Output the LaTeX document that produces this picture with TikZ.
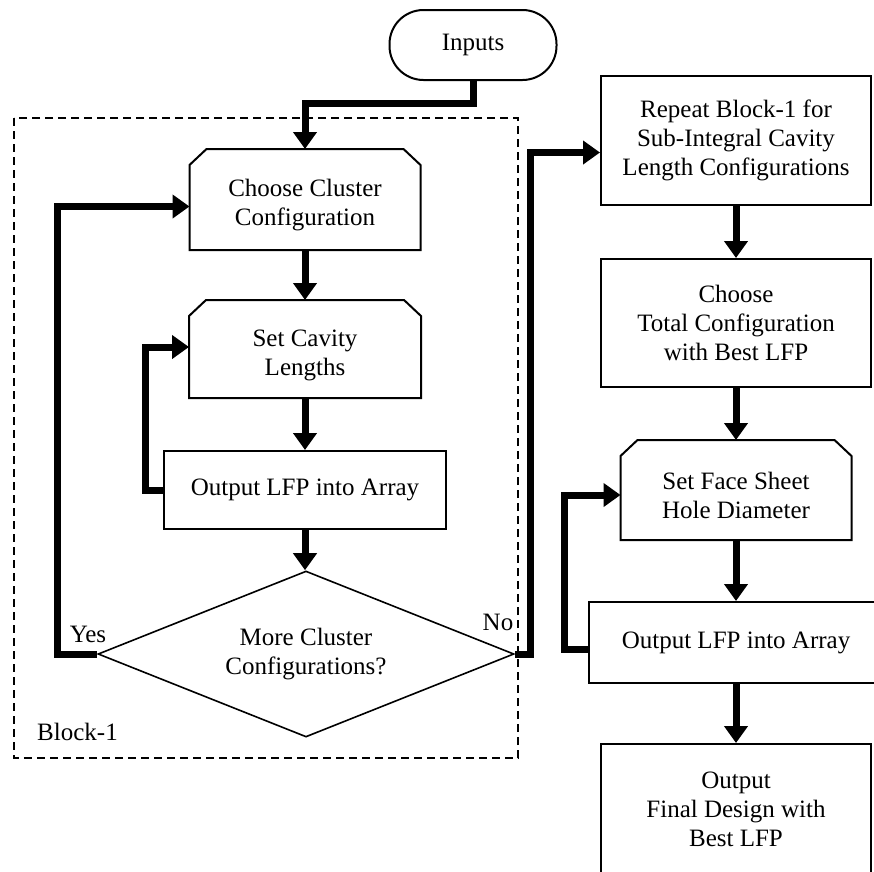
\documentclass[tikz,border=0pt]{standalone}
\usepackage{fontspec}
\setmainfont{Liberation Serif}
\usetikzlibrary{arrows.meta,shapes.geometric}
\begin{document}
\begin{tikzpicture}[x=1pt,y=-1pt,
  every node/.style={font=\fontsize{25}{29}\selectfont, align=center, inner sep=0pt},
  box/.style={draw, line width=2pt, rectangle},
  chbox/.style={rectangle, draw=none, outer sep=0pt},
  bord/.style={line width=2pt, line join=miter},
  dia/.style={draw, line width=1.6pt, diamond, aspect=2.5, minimum width=416pt, minimum height=166pt},
  conn/.style={line width=7pt, -{Triangle[width=23pt,length=17pt]}},
  block/.style={draw, line width=1.5pt, dash pattern=on 8pt off 5pt}]
\useasboundingbox (0,0) rectangle (874,871);
\fill[white] (0,0) rectangle (874,871);

% Block-1 frame
\draw[block] (14,118) rectangle (518,758);
\node[anchor=west] (blk) at (37,732) {Block-1};

% nodes
\node[box, minimum width=167pt, minimum height=70pt, rounded corners=34pt] (inputs) at (473,45) {Inputs};

\node[chbox, minimum width=231pt, minimum height=101pt] (cc) at (305,199.5) {};
\node (cct) at (305,205) {Choose Cluster\\Configuration};

\node[chbox, minimum width=232pt, minimum height=98pt] (sc) at (305,349) {};
\node (sct) at (305,355) {Set Cavity\\Lengths};

\node[box, minimum width=282pt, minimum height=78pt] (ol) at (305,490) {Output LFP into Array};

\node[dia] (dm) at (306,654) {More Cluster\\Configurations?};

\node[box, minimum width=270pt, minimum height=129pt] (rp) at (736,140.5) {Repeat Block-1 for\\Sub-Integral Cavity\\Length Configurations};
\node[box, minimum width=270pt, minimum height=128pt] (ct) at (736,323) {Choose\\Total Configuration\\with Best LFP};

\node[chbox, minimum width=231pt, minimum height=100pt] (sf) at (736,490) {};
\node (sft) at (736,495) {Set Face Sheet\\Hole Diameter};

\node[box, minimum width=294pt, minimum height=81pt] (or) at (736,642.5) {Output LFP into Array};
\node[box, minimum width=270pt, minimum height=140pt] (of) at (736,814) {};
\node (oft) at (736,809) {Output\\Final Design with\\Best LFP};

% chamfered outlines
\foreach \n in {cc,sc,sf}{
  \draw[bord] (\n.south west) -- ([yshift=-16pt]\n.north west) -- ([xshift=17pt]\n.north west)
     -- ([xshift=-17pt]\n.north east) -- ([yshift=-16pt]\n.north east) -- (\n.south east) -- cycle;
}

% labels
\node (yes) at (88,634) {Yes};
\node (no) at (498,622) {No};

% connectors
\draw[conn] (inputs.south) -- ++(0,22) -| (cc.north);
\draw[conn] (cc.south) -- (sc.north);
\draw[conn] (sc.south) -- (ol.north);
\draw[conn] (ol.west) -- ++(-18,0) |- ([yshift=2pt]sc.west);
\draw[conn] (ol.south) -- (ol.south |- dm.north);
\draw[conn] (dm.west) -- ++(-40,0) |- ([yshift=-7pt]cc.west);
\draw[conn] (dm.east) -- ++(16,0) |- ([yshift=-12pt]rp.west);
\draw[conn] (rp.south) -- (ct.north);
\draw[conn] (ct.south) -- (sf.north);
\draw[conn] (sf.south) -- (or.north);
\draw[conn] ([yshift=-7pt]or.west) -- ++(-24,0) |- ([yshift=-5pt]sf.west);
\draw[conn] (or.south) -- (of.north);
\end{tikzpicture}
\end{document}
